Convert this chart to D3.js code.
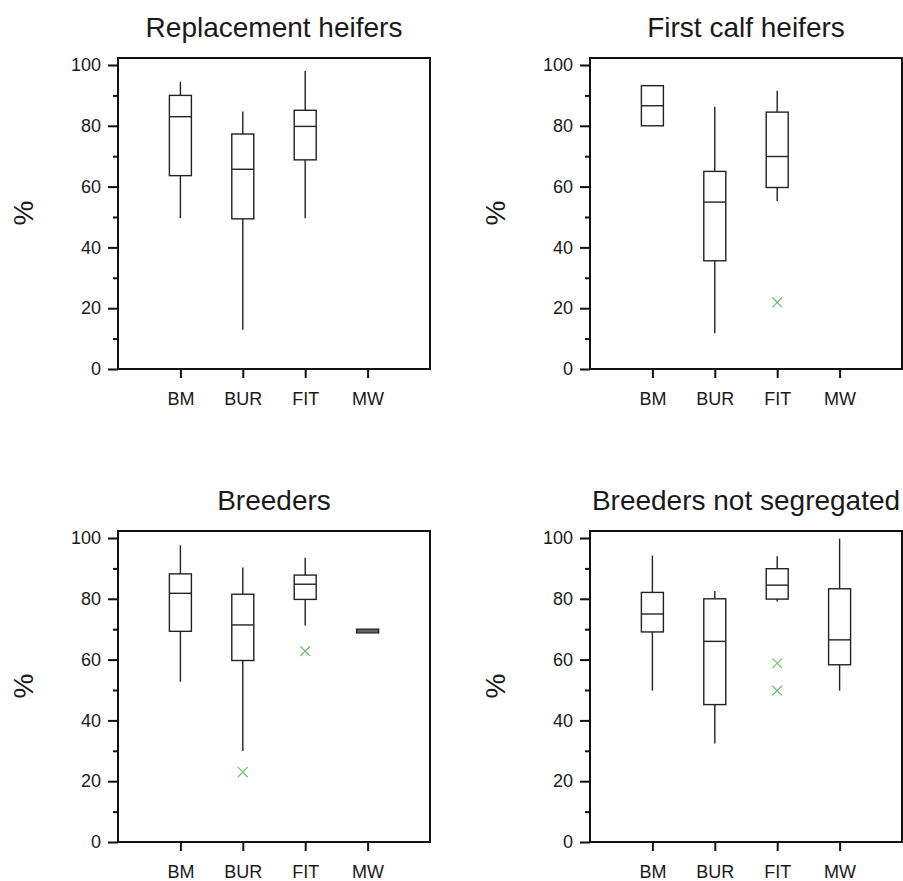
<!DOCTYPE html>
<html>
<head>
<meta charset="utf-8">
<script src="https://cdn.jsdelivr.net/npm/d3@7"></script>
<style>
  body { margin: 0; background: #fff; }
  text { font-family: "Liberation Sans", Arial, sans-serif; fill: #1a1a1a; }
</style>
</head>
<body>
<div id="chart"></div>
<script>
// Categories and tick values
const categories = ["BM", "BUR", "FIT", "MW"];
const yTicks = [0, 20, 40, 60, 80, 100];
const yMinorTicks = [10, 30, 50, 70, 90];

const panelTitles = ["Replacement heifers", "First calf heifers", "Breeders", "Breeders not segregated"];

// [min, q1, median, q3, max] per category, null = no data
const replacementHeifers = [[49.6, 63.6, 83.0, 90.0, 94.5], [12.9, 49.4, 65.7, 77.3, 84.7], [49.6, 68.8, 79.8, 85.1, 98.0], null];
const firstCalfHeifers = [[80.0, 80.0, 86.6, 93.2, 93.2], [11.8, 35.6, 54.9, 65.0, 86.3], [55.3, 59.7, 69.9, 84.5, 91.5], null];
const breeders = [[52.7, 69.3, 81.8, 88.2, 97.6], [29.9, 59.7, 71.4, 81.5, 90.3], [71.2, 79.8, 84.8, 87.8, 93.5], [68.8, 68.8, 69.4, 70.0, 70.0]];
const breedersNotSegregated = [[49.8, 69.1, 75.0, 82.1, 94.2], [32.4, 45.2, 66.0, 80.0, 82.6], [79.1, 79.9, 84.5, 89.9, 94.0], [49.8, 58.3, 66.5, 83.3, 99.8]];

// outliers: [category, value]
const replacementOutliers = [];
const firstCalfOutliers = [["FIT", 21.9]];
const breedersOutliers = [["BUR", 23.0], ["FIT", 62.8]];
const notSegregatedOutliers = [["FIT", 58.8], ["FIT", 49.8]];

const drawChart = () => {
  const width = 903;
  const height = 881;
  const plotW = 312;
  const plotH = 304;
  const boxW = 22;

  const svg = d3.select("#chart")
                .append("svg")
                .attr("width", width)
                .attr("height", height);

  const panels = [
    { title: panelTitles[0], stats: replacementHeifers, outliers: replacementOutliers, left: 118, top: 65 },
    { title: panelTitles[1], stats: firstCalfHeifers, outliers: firstCalfOutliers, left: 590, top: 65 },
    { title: panelTitles[2], stats: breeders, outliers: breedersOutliers, left: 118, top: 538 },
    { title: panelTitles[3], stats: breedersNotSegregated, outliers: notSegregatedOutliers, left: 590, top: 538 }
  ];

  panels.forEach((p) => {
    const xScale = d3.scalePoint()
                     .domain(categories)
                     .range([p.left, p.left + plotW])
                     .padding(1);

    const yScale = d3.scaleLinear()
                     .domain([0, 100])
                     .range([p.top + plotH, p.top]);

    const g = svg.append("g");

    // frame (top and right)
    g.append("rect")
     .attr("x", p.left)
     .attr("y", yScale(102.3))
     .attr("width", plotW)
     .attr("height", yScale(0) - yScale(102.3))
     .attr("fill", "none")
     .attr("stroke", "#111")
     .attr("stroke-width", 2);

    // left axis
    const yAxis = g.append("g")
                   .attr("transform", `translate(${p.left},0)`)
                   .call(d3.axisLeft(yScale).tickValues(yTicks).tickSize(10).tickSizeOuter(0).tickPadding(7));
    yAxis.select(".domain").remove();
    yAxis.selectAll("line").attr("stroke", "#111").attr("stroke-width", 2);
    yAxis.selectAll("text").attr("font-size", 18).attr("font-family", null).style("fill", "#1a1a1a");

    const yMinor = g.append("g")
                    .attr("transform", `translate(${p.left},0)`)
                    .call(d3.axisLeft(yScale).tickValues(yMinorTicks).tickSize(5).tickFormat(""));
    yMinor.select(".domain").remove();
    yMinor.selectAll("line").attr("stroke", "#111").attr("stroke-width", 2);

    // bottom axis
    const xAxis = g.append("g")
                   .attr("transform", `translate(0,${yScale(0)})`)
                   .call(d3.axisBottom(xScale).tickSize(9).tickSizeOuter(0).tickPadding(14));
    xAxis.select(".domain").remove();
    xAxis.selectAll("line").attr("stroke", "#111").attr("stroke-width", 2);
    xAxis.selectAll("text").attr("font-size", 18).attr("font-family", null).style("fill", "#1a1a1a");

    // title
    g.append("text")
     .attr("x", p.left + plotW / 2)
     .attr("y", p.top - 28)
     .attr("text-anchor", "middle")
     .attr("font-size", 28)
     .text(p.title);

    // y label
    g.append("text")
     .attr("transform", `translate(${p.left - 85},${p.top + 148}) rotate(-90)`)
     .attr("text-anchor", "middle")
     .attr("font-size", 28)
     .text("%");

    // boxes
    const boxData = p.stats.map((s, i) => ({ cat: categories[i], s: s })).filter((d) => d.s);
    const boxes = g.selectAll(".box")
                   .data(boxData)
                   .enter()
                   .append("g")
                   .attr("class", "box");

    boxes.append("line")
         .attr("x1", (d) => xScale(d.cat))
         .attr("x2", (d) => xScale(d.cat))
         .attr("y1", (d) => yScale(d.s[0]))
         .attr("y2", (d) => yScale(d.s[1]))
         .attr("stroke", "#222")
         .attr("stroke-width", 1.4);

    boxes.append("line")
         .attr("x1", (d) => xScale(d.cat))
         .attr("x2", (d) => xScale(d.cat))
         .attr("y1", (d) => yScale(d.s[3]))
         .attr("y2", (d) => yScale(d.s[4]))
         .attr("stroke", "#222")
         .attr("stroke-width", 1.4);

    boxes.append("rect")
         .attr("x", (d) => xScale(d.cat) - boxW / 2)
         .attr("y", (d) => yScale(d.s[3]))
         .attr("width", boxW)
         .attr("height", (d) => yScale(d.s[1]) - yScale(d.s[3]))
         .attr("fill", "#fff")
         .attr("stroke", "#222")
         .attr("stroke-width", 1.4);

    boxes.append("line")
         .attr("x1", (d) => xScale(d.cat) - boxW / 2)
         .attr("x2", (d) => xScale(d.cat) + boxW / 2)
         .attr("y1", (d) => yScale(d.s[2]))
         .attr("y2", (d) => yScale(d.s[2]))
         .attr("stroke", "#222")
         .attr("stroke-width", 1.4);

    // outliers
    g.selectAll(".outlier")
     .data(p.outliers)
     .enter()
     .append("path")
     .attr("class", "outlier")
     .attr("d", d3.symbol().type(d3.symbolTimes).size(64))
     .attr("transform", (d) => `translate(${xScale(d[0])},${yScale(d[1])})`)
     .attr("fill", "none")
     .attr("stroke", "#6cc46c")
     .attr("stroke-width", 1.2);
  });
}

drawChart();
</script>
</body>
</html>
